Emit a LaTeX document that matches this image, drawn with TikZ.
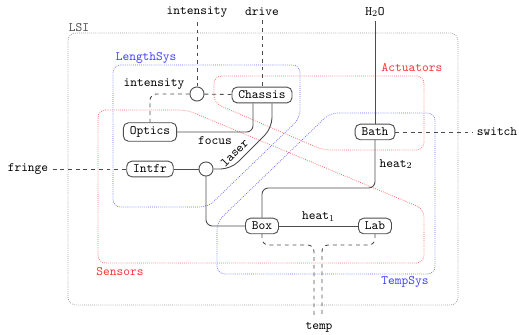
\documentclass[tikz,border=0pt]{standalone}
\usetikzlibrary{calc}
\begin{document}
\begin{tikzpicture}[x=0.78pt,y=-0.78pt,
  every node/.style={font=\ttfamily},
  unit/.style={draw=black!70,line width=0.7pt,rounded corners=4pt,inner xsep=5pt,inner ysep=3pt,fill=white},
  junct/.style={draw=black!70,line width=0.7pt,circle,minimum size=11pt,inner sep=0pt,fill=white},
  conn/.style={draw=black!70,line width=0.7pt,rounded corners=5pt},
  sig/.style={draw=black!70,line width=0.7pt,dashed,rounded corners=5pt},
  grp/.style={line width=0.6pt,densely dotted,rounded corners=6pt},
  lbl/.style={inner sep=2pt}]
\useasboundingbox (0,0) rectangle (519,335);
% groups
\draw[grp,draw=black!40] (68,33) rectangle (458,305);
\node[lbl,text=black!70,anchor=south west] (lLSI) at (66,34) {LSI};
\draw[grp,draw=blue!60] (113,65) -- (300,65) -- (300,118) -- (208,207) -- (113,207) -- cycle;
\node[lbl,text=blue!75,anchor=south west] (lLen) at (113,66) {LengthSys};
\draw[grp,draw=red!60] (214,76) -- (424,76) -- (424,150) -- (323,150) -- (214,103) -- cycle;
\node[lbl,text=red!80] (lAct) at (412,68) {Actuators};
\draw[grp,draw=red!60] (98,110) -- (187,110) -- (424,209) -- (424,263) -- (98,263) -- cycle;
\node[lbl,text=red!80] (lSen) at (120,272) {Sensors};
\draw[grp,draw=blue!60] (217,222) -- (330,113) -- (435,113) -- (435,274) -- (217,274) -- cycle;
\node[lbl,text=blue!75] (lTmp) at (405,282) {TempSys};
% coordinates
\coordinate (l1) at (272,128);
\coordinate (l2) at (231,169);
\coordinate (h2) at (375,188);
\coordinate (t1) at (314,245);
\coordinate (t2) at (322,245);
% units
\node[unit] (chassis) at (262,95) {Chassis};
\node[unit] (optics) at (150,132) {Optics};
\node[unit] (intfr) at (150,169) {Intfr};
\node[unit] (bath) at (375,132) {Bath};
\node[unit] (box) at (262,226) {Box};
\node[unit] (lab) at (375,226) {Lab};
\node[junct] (c1) at (197,94) {};
\node[junct] (c2) at (206,169) {};
% external texts
\node (tInt) at (197,12) {intensity};
\node (tDrive) at (262,12) {drive};
\node (tH2O) at (375,12) {H$_2$O};
\node (tSwitch) at (497,132) {switch};
\node (tFringe) at (28,169) {fringe};
\node (tTemp) at (319,327) {temp};
% connectors
\draw[sig] (tInt) -- (c1);
\draw[sig] (c1) -- (chassis);
\draw[sig] (c1) -| node[pos=0.45,above] {intensity} (optics);
\draw[sig] (tDrive) -- (chassis);
\draw[conn] (chassis.south -| 253,0) |- node[pos=0.75,below] {focus} (optics);
\draw[conn,rounded corners=8pt] (c2) -- (l2) -- node[pos=0.24,sloped,above,inner sep=3.5pt] {laser} (l1) -- (chassis.south -| l1);
\draw[conn] (intfr) -- (c2);
\draw[sig] (tFringe) -- (intfr);
\draw[conn] (c2) |- (box);
\draw[conn] (box) |- (h2) -- node[right] {heat$_2$} (bath);
\draw[conn] (tH2O) -- (bath);
\draw[sig] (bath) -- (tSwitch);
\draw[conn] (box) -- node[above] {heat$_1$} (lab);
\draw[sig] (box) |- (t1) -- (t1 |- tTemp.north);
\draw[sig] (lab) |- (t2) -- (t2 |- tTemp.north);
\end{tikzpicture}
\end{document}
